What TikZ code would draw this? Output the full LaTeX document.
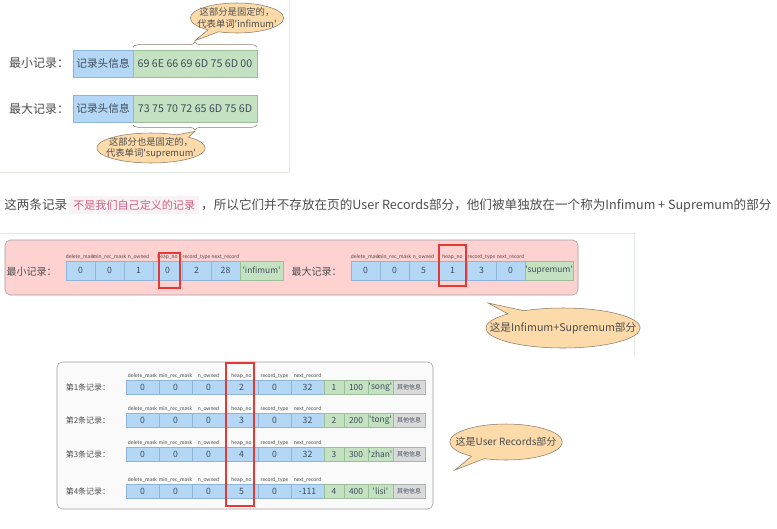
\documentclass[tikz,border=0pt]{standalone}
\usepackage{fontspec}
\setmainfont{Noto Sans CJK SC}
\newfontfamily\fieldfont{Carlito}
\usetikzlibrary{positioning, shapes.callouts, decorations.pathreplacing}
\definecolor{HeadBlue}{HTML}{B3D7F4}
\definecolor{HeadLine}{HTML}{8EB5D8}
\definecolor{DataGreen}{HTML}{C4E2C1}
\definecolor{DataLine}{HTML}{9BBF98}
\definecolor{OtherGray}{HTML}{DADADA}
\definecolor{OtherLine}{HTML}{B0B0B0}
\definecolor{PinkPanel}{HTML}{FFD2D2}
\definecolor{PanelLine}{HTML}{A09A9A}
\definecolor{GrayPanel}{HTML}{FAFAFA}
\definecolor{BubbleFill}{HTML}{FCDAAA}
\definecolor{BubbleLine}{HTML}{8C7B68}
\definecolor{MarkRed}{HTML}{E53935}
\definecolor{TextGray}{HTML}{4D4D4D}
\definecolor{CellText}{HTML}{3E4C5C}
\definecolor{CodeBg}{HTML}{F9F2F4}
\definecolor{CodeFg}{HTML}{D06080}
\definecolor{FrameLine}{HTML}{E0ECE0}
\newcommand{\sq}{\textquotesingle}

\begin{document}
\begin{tikzpicture}[x=0.75pt, y=-0.75pt,
  cell/.style={draw, inner sep=0pt, outer sep=0pt, text=CellText},
  head_box/.style={cell, fill=HeadBlue, draw=HeadLine, minimum height=20.25pt, font=\fontsize{8}{9}\selectfont},
  data_box/.style={cell, fill=DataGreen, draw=DataLine, minimum height=20.25pt, font=\fontsize{8}{9}\selectfont},
  blue_cell/.style={cell, fill=HeadBlue, draw=HeadLine, minimum width=21.75pt, minimum height=14.25pt, font=\fontsize{6.5}{7}\selectfont},
  green_cell/.style={cell, fill=DataGreen, draw=DataLine, minimum height=14.25pt, font=\fontsize{6.3}{7}\selectfont},
  u_blue/.style={blue_cell, minimum width=24.75pt, minimum height=10.5pt},
  u_green/.style={green_cell, minimum height=10.5pt},
  u_other/.style={cell, fill=OtherGray, draw=OtherLine, minimum width=24pt, minimum height=10.5pt, font=\fontsize{4.5}{5}\selectfont},
  field_lbl/.style={inner sep=0pt, anchor=south, text=TextGray, font=\fieldfont\fontsize{4.2}{5}\selectfont},
  row_lbl/.style={inner sep=0pt, text=TextGray},
  bubble/.style={ellipse callout, draw=BubbleLine, fill=BubbleFill, align=center, text=TextGray},
  brace_line/.style={decorate, decoration={brace, amplitude=4pt}, draw=BubbleLine},
  red_mark/.style={draw=MarkRed, line width=1.5pt},
  frame_line/.style={draw=FrameLine, line width=0.6pt},
]
  \fill[white] (0,0) rectangle (777,528);
  \useasboundingbox (0,0) rectangle (777,528);

  % fixed bytes of infimum / supremum
  \draw[frame_line] (0,172) -- (289,172) -- (289,0);
  \node[row_lbl, font=\fontsize{9}{10}\selectfont] (minlbl) at (39,63.5) {最小记录：};
  \node[head_box, minimum width=45pt] (minhead) at (103,63.5) {记录头信息};
  \node[data_box, minimum width=93pt, right=0pt of minhead] (mindata) {69 6E 66 69 6D 75 6D 00};
  \node[row_lbl, font=\fontsize{9}{10}\selectfont] (maxlbl) at (39,108.5) {最大记录：};
  \node[head_box, minimum width=45pt] (maxhead) at (103,108.5) {记录头信息};
  \node[data_box, minimum width=93pt, right=0pt of maxhead] (maxdata) {73 75 70 72 65 6D 75 6D};
  \draw[brace_line] ([yshift=2pt]mindata.north west) -- ([yshift=2pt]mindata.north east);
  \draw[brace_line] ([yshift=-2pt]maxdata.south east) -- ([yshift=-2pt]maxdata.south west);
  \coordinate (mintip) at ([yshift=7pt]mindata.north);
  \coordinate (maxtip) at ([yshift=-7pt]maxdata.south);
  \node[bubble, font=\fontsize{7}{8.5}\selectfont, inner xsep=-5pt, inner ysep=-1pt,
    minimum width=65pt, minimum height=22.5pt, callout absolute pointer={(mintip)}]
    (minnote) at (237,18) {这部分是固定的，\\代表单词\sq infimum\sq};
  \node[bubble, font=\fontsize{7}{8.5}\selectfont, inner xsep=-5pt, inner ysep=-1pt,
    minimum width=69pt, minimum height=22.5pt, callout absolute pointer={(maxtip)}]
    (maxnote) at (151,148) {这部分也是固定的，\\代表单词\sq supremum\sq};

  % sentence
  \node[anchor=west, inner sep=0pt, text=TextGray, font=\fontsize{9.45}{11}\selectfont] (caption) at (4,205)
    {这两条记录\,\colorbox{CodeBg}{\fontsize{8.3}{9}\selectfont\color{CodeFg}不是我们自己定义的记录}\,，所以它们并不存放在页的User Records部分，他们被单独放在一个称为Infimum + Supremum的部分};

  % infimum + supremum records
  \draw[frame_line] (0,233) -- (634,233) -- (634,355);
  \draw[draw=PanelLine, fill=PinkPanel, rounded corners=4pt] (5,240) rectangle (578,295);
  \node[row_lbl, font=\fontsize{7.5}{8}\selectfont] (inflbl) at (31.5,272) {最小记录：};
  \node[row_lbl, font=\fontsize{7.5}{8}\selectfont] (suplbl) at (316.5,272) {最大记录：};
  \foreach \v [count=\k] in {0,0,1,0,2,28}
    \node[blue_cell] (i\k) at ({66+29*\k-14.5},270.5) {\v};
  \foreach \v [count=\k] in {0,0,5,1,3,0}
    \node[blue_cell] (s\k) at ({351+29*\k-14.5},270.5) {\v};
  \node[green_cell, minimum width=32.25pt, right=0pt of i6] (iname) {\sq infimum\sq};
  \node[green_cell, minimum width=36pt, right=0pt of s6] (sname) {\sq supremum\sq};
  \foreach \f [count=\k] in {delete\_mask, min\_rec\_mask, n\_owned, heap\_no, record\_type, next\_record} {
    \node[field_lbl] (if\k) at ([yshift=1pt]i\k.north) {\f};
    \node[field_lbl] (sf\k) at ([yshift=1pt]s\k.north) {\f};
  }
  \draw[red_mark] (159,253) rectangle (180,288);
  \draw[red_mark] (439,245) rectangle (466,286);
  \coordinate (sysptr) at (488,303);
  \node[bubble, font=\fontsize{8}{9}\selectfont, inner xsep=-14pt, inner ysep=-1pt,
    minimum width=110pt, minimum height=30pt, callout absolute pointer={(sysptr)}]
    (sysnote) at (563,328) {这是Infimum+Supremum部分};

  % user records
  \draw[draw=PanelLine, fill=GrayPanel, rounded corners=4pt] (57,362) rectangle (433,509);
  \foreach \r/\y/\h/\nx/\rid/\nm in {1/387/2/32/100/song, 2/420/3/32/200/tong, 3/454/4/32/300/zhan, 4/491/5/-111/400/lisi} {
    \node[row_lbl, font=\fontsize{6}{7}\selectfont] (ul\r) at (88,\y) {第\r 条记录：};
    \foreach \v [count=\k] in {0,0,0,\h,0,\nx}
      \node[u_blue] (u\r-\k) at ({126+33*\k-16.5},\y) {\v};
    \foreach \f [count=\k] in {delete\_mask, min\_rec\_mask, n\_owned, heap\_no, record\_type, next\_record}
      \node[field_lbl] (uf\r-\k) at ([yshift=1pt]u\r-\k.north) {\f};
    \node[u_green, minimum width=15pt, right=0pt of u\r-6] (u\r-a) {\r};
    \node[u_green, minimum width=18pt, right=0pt of u\r-a] (u\r-b) {\rid};
    \node[u_green, minimum width=18.75pt, right=0pt of u\r-b] (u\r-c) {\sq\nm\sq};
    \node[u_other, right=0pt of u\r-c] (u\r-d) {其他信息};
  }
  \draw[red_mark] (226,363) rectangle (254,506);
  \coordinate (urptr) at (455,470);
  \node[bubble, font=\fontsize{7.5}{8.5}\selectfont, inner xsep=-8pt, inner ysep=-1pt,
    minimum width=81pt, minimum height=27pt, callout absolute pointer={(urptr)}]
    (urnote) at (506,442) {这是User Records部分};
\end{tikzpicture}
\end{document}
